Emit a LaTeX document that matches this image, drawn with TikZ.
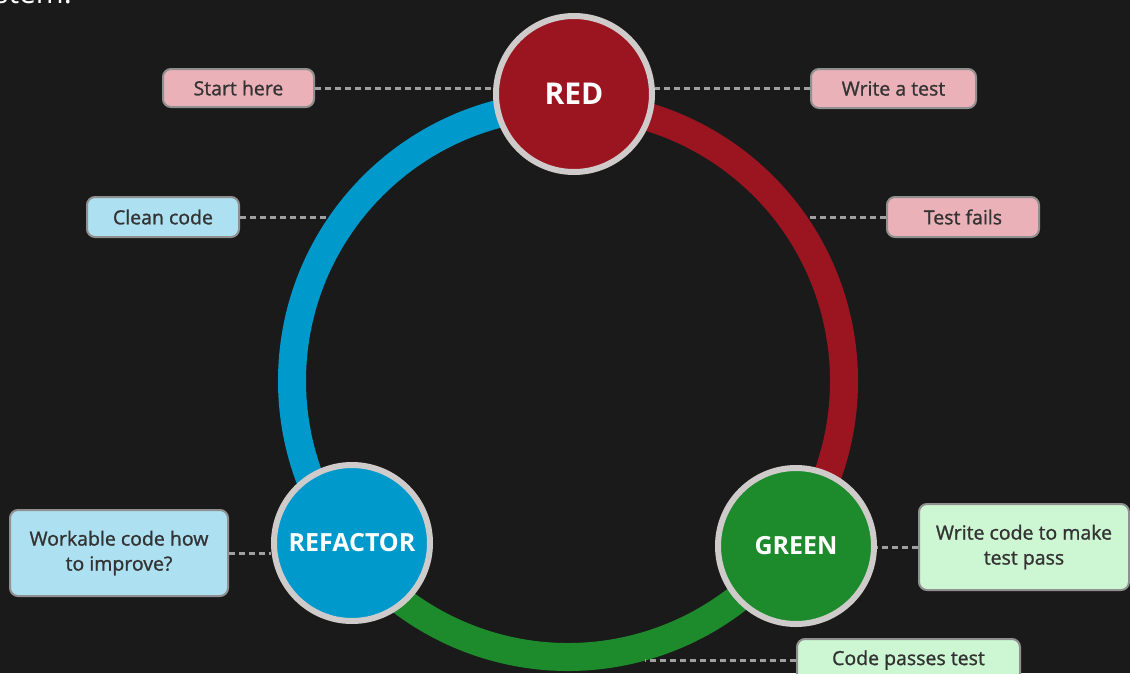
\documentclass[tikz,border=0pt]{standalone}
\usepackage{fontspec}
\setmainfont{Open Sans}
\newfontfamily\notefont{Open Sans}[RawFeature={embolden=1.2}]

\definecolor{bg}{HTML}{1A1A1A}
\definecolor{tddred}{HTML}{9B1520}
\definecolor{tddgreen}{HTML}{1D8A2B}
\definecolor{tddblue}{HTML}{0099CC}
\definecolor{notepink}{HTML}{EBB1B8}
\definecolor{noteblue}{HTML}{ADE1F1}
\definecolor{notegreen}{HTML}{CDF7D3}
\definecolor{notetext}{HTML}{333333}
\definecolor{noteline}{HTML}{909090}
\definecolor{dashgray}{HTML}{A0A0A0}
\definecolor{rimgray}{HTML}{D0CBCB}

\tikzset{
  phase/.style={circle,draw=rimgray,line width=6pt,minimum size=156pt,inner sep=0pt,text=white,font=\bfseries\fontsize{25}{30}\selectfont},
  note/.style={rectangle,rounded corners=8pt,draw=noteline,line width=2pt,text=notetext,align=center,inner sep=0pt,font=\notefont\fontsize{19.5}{25}\selectfont},
  leader/.style={draw=dashgray,line width=3pt,dash pattern=on 6pt off 4pt},
  arcseg/.style={line width=28pt}
}

\begin{document}
\begin{tikzpicture}[x=1pt,y=-1pt]
\fill[bg] (0,0) rectangle (1130,673);
\useasboundingbox (0,0) rectangle (1130,673);
\path (-6,3) node[anchor=base west,inner sep=0pt,text=white,font=\fontsize{30}{36}\selectfont](Heading){stem.};

% the cycle ring
\coordinate (Hub) at (568,381);
\draw[arcseg,draw=tddblue] (Hub) ++(90:276pt) arc[start angle=90,end angle=217,radius=276pt];
\draw[arcseg,draw=tddgreen] (Hub) ++(217:276pt) arc[start angle=217,end angle=323,radius=276pt];
\draw[arcseg,draw=tddred] (Hub) ++(-37:276pt) arc[start angle=-37,end angle=90,radius=276pt];

\path (574,94) node[phase,fill=tddred,font=\bfseries\fontsize{30}{36}\selectfont](Red){RED} (796,546) node[phase,fill=tddgreen](Green){GREEN} (352,543) node[phase,fill=tddblue](Refactor){REFACTOR};

\path (238.5,88) node[note,fill=notepink,minimum width=151pt,minimum height=38pt](StartHere){Start here} (893.5,88.5) node[note,fill=notepink,minimum width=165pt,minimum height=39pt](WriteTest){Write a test} (163,217) node[note,fill=noteblue,minimum width=152pt,minimum height=40pt](CleanCode){Clean code} (963,217) node[note,fill=notepink,minimum width=152pt,minimum height=40pt](TestFails){Test fails} (119,553) node[note,fill=noteblue,minimum width=218pt,minimum height=86pt](Workable){Workable code how\\to improve?} (1024,547) node[note,fill=notegreen,minimum width=210pt,minimum height=86pt](WriteCode){Write code to make\\test pass} (908.5,660) node[note,fill=notegreen,minimum width=223pt,minimum height=42pt](CodePasses){Code passes test};

\coordinate (CleanEnd) at (330,217);
\coordinate (FailsEnd) at (808,217);
\coordinate (PassEnd) at (645,660);

\draw[leader] (StartHere.east) -- (StartHere.east -| Red.west);
\draw[leader] (WriteTest.west) -- (WriteTest.west -| Red.east);
\draw[leader] (CleanCode.east) -- (CleanEnd);
\draw[leader] (TestFails.west) -- (FailsEnd);
\draw[leader] (Workable.east) -- (Workable.east -| Refactor.west);
\draw[leader] (WriteCode.west) -- (WriteCode.west -| Green.east);
\draw[leader] (CodePasses.west) -- (PassEnd);
\end{tikzpicture}
\end{document}
